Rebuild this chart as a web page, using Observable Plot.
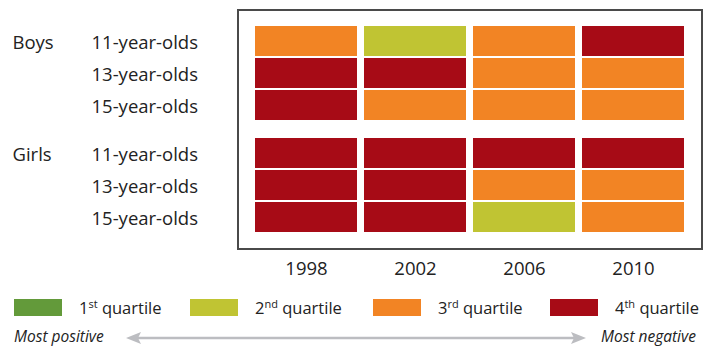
<!DOCTYPE html>
<html>
<head>
<meta charset="utf-8">
<script src="https://cdn.jsdelivr.net/npm/d3@7"></script>
<script src="https://cdn.jsdelivr.net/npm/@observablehq/plot@0.6"></script>
<style>
  html, body { margin: 0; padding: 0; background: #fff; }
  body { width: 708px; height: 346px; overflow: hidden; font-family: "Open Sans", sans-serif; color: #222; }
  #legend { position: relative; height: 56px; }
  .item { position: absolute; top: 9px; display: flex; align-items: center; font-size: 16.5px; height: 17px; }
  .sw { width: 48px; height: 17px; margin-right: 17px; flex: none; }
  .item sup { font-size: 11px; vertical-align: 0; position: relative; top: -6px; }
  .ends { position: absolute; top: 37px; font-style: italic; font-size: 15.5px; line-height: 18px; }
  svg.arrow { position: absolute; left: 0; top: 0; }
</style>
</head>
<body>
<div id="chart"></div>
<div id="legend"></div>
<script>
// ---- data ----
const years = ["1998", "2002", "2006", "2010"];
const groups = ["Boys", "Girls"];
const ages = ["11-year-olds", "13-year-olds", "15-year-olds"];
const quartiles = ["1st", "2nd", "3rd", "4th"];
const quartileColors = ["#639a3a", "#c0c433", "#f28424", "#a70b16"];
// quartile (1-4) per year, row by row
const boys11 = [3, 2, 3, 4];
const boys13 = [4, 4, 3, 3];
const boys15 = [4, 3, 3, 3];
const girls11 = [4, 4, 4, 4];
const girls13 = [4, 4, 3, 3];
const girls15 = [4, 4, 2, 3];
const endLabels = ["Most positive", "Most negative"];

const rows = [
  ["Boys", ages[0], boys11], ["Boys", ages[1], boys13], ["Boys", ages[2], boys15],
  ["Girls", ages[0], girls11], ["Girls", ages[1], girls13], ["Girls", ages[2], girls15]
];
const data = rows.flatMap(([group, age, vals]) =>
  vals.map((q, i) => ({group, age, year: years[i], quartile: quartiles[q - 1]})));

const plot = Plot.plot({
  width: 708,
  height: 290,
  marginLeft: 237,
  marginRight: 6,
  marginTop: 9,
  marginBottom: 41,
  style: {fontFamily: "Open Sans, sans-serif", color: "#222", background: "transparent"},
  x: {domain: years, paddingInner: 0.065, paddingOuter: 0.15, axis: null},
  y: {domain: ages, paddingInner: 0.07, paddingOuter: 0, axis: null},
  fy: {domain: groups, paddingInner: 1 / 7, paddingOuter: 1 / 7, axis: null},
  color: {domain: quartiles, range: quartileColors},
  marks: [
    Plot.cell(data, {x: "year", y: "age", fy: "group", fill: "quartile"}),
    Plot.axisY({anchor: "left", label: null, tickSize: 0, tickPadding: 146, textAnchor: "start", fontSize: 18.5, fill: "#222", dy: 2}),
    Plot.axisX({anchor: "bottom", label: null, tickSize: 0, tickPadding: 28, fontSize: 18.5, fill: "#222"}),
    Plot.text(groups, {fy: d => d, y: () => ages[0], text: d => d, frameAnchor: "left", textAnchor: "start", dx: -225, dy: 2, fontSize: 18.5, fill: "#222"})
  ]
});
document.getElementById("chart").appendChild(plot);

// outer frame around the whole plot area (from the scales)
{
  const xr = plot.scale("x").range;
  const fyr = plot.scale("fy") ? plot.scale("fy").range : [9, 249];
  const svg = d3.select(plot.tagName.toLowerCase() === "svg" ? plot : plot.querySelector("svg"));
  svg.append("rect")
    .attr("x", xr[0] + 1).attr("y", fyr[0] + 1)
    .attr("width", xr[1] - xr[0] - 1).attr("height", fyr[1] - fyr[0] - 1)
    .attr("fill", "none").attr("stroke", "#4a4a4a").attr("stroke-width", 2);
}

// ---- legend ----
const legend = d3.select("#legend");
const starts = [14, 190, 373, 550];
quartiles.forEach((q, i) => {
  const it = legend.append("div").attr("class", "item").style("left", starts[i] + "px");
  it.append("div").attr("class", "sw").style("background", quartileColors[i]);
  const t = it.append("span");
  t.append("span").text(q.slice(0, 1));
  t.append("sup").text(q.slice(1));
  t.append("span").text(" quartile");
});
legend.append("div").attr("class", "ends").style("left", "14px").text(endLabels[0]);
legend.append("div").attr("class", "ends").style("left", "601px").text(endLabels[1]);
const arr = legend.append("svg").attr("class", "arrow").attr("width", 708).attr("height", 56);
const ay = 48;
arr.append("line").attr("x1", 132).attr("x2", 580).attr("y1", ay).attr("y2", ay)
  .attr("stroke", "#bcbdc1").attr("stroke-width", 2.5);
arr.append("path").attr("d", `M126,${ay} L141,${ay - 6} L138,${ay} L141,${ay + 6} Z`).attr("fill", "#bcbdc1");
arr.append("path").attr("d", `M586,${ay} L571,${ay - 6} L574,${ay} L571,${ay + 6} Z`).attr("fill", "#bcbdc1");
</script>
</body>
</html>
